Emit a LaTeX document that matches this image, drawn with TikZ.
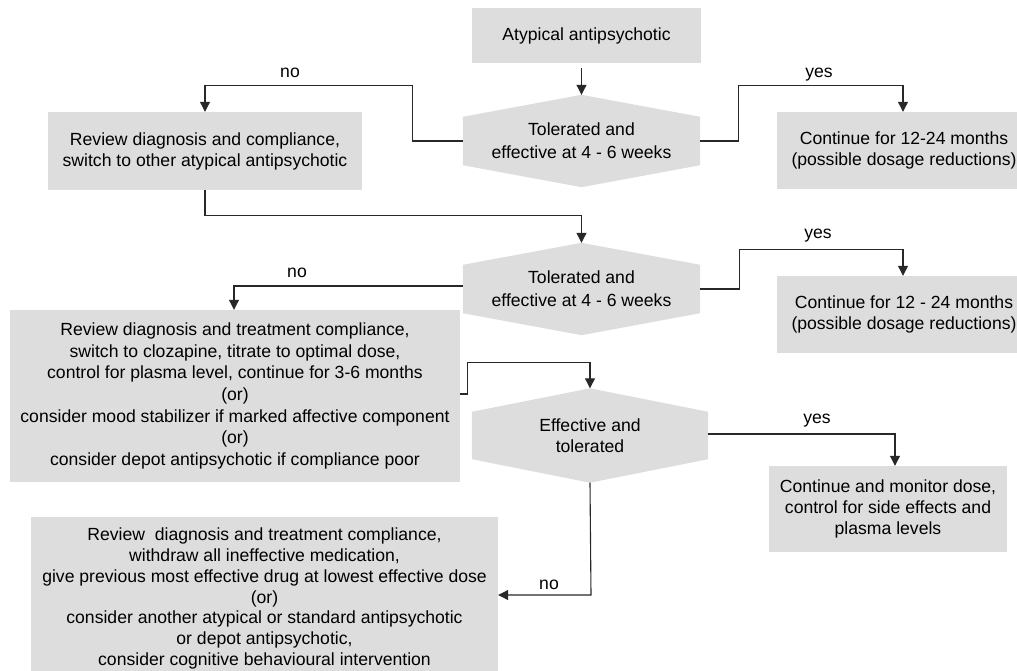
\documentclass[tikz,border=0pt]{standalone}
\usepackage{fontspec}
\setmainfont{Liberation Sans}
\usetikzlibrary{arrows.meta,backgrounds}
\definecolor{boxgray}{RGB}{221,221,221}
\definecolor{linegray}{RGB}{40,40,40}
\begin{document}
\begin{tikzpicture}[x=1pt,y=-1pt,
  every node/.style={font=\fontsize{17.6}{21}\selectfont},
  box/.style={rectangle,fill=boxgray,inner sep=0pt,align=center},
  hexbody/.style={rectangle,inner sep=0pt,align=center},
  conn/.style={draw=linegray,line width=1.1pt},
  arr/.style={conn,-{Triangle[width=10pt,length=10pt]}},
  lbl/.style={inner sep=1pt}
]
\useasboundingbox (0,0) rectangle (1017,671);

% boxes
\node[box,minimum width=229,minimum height=55] (start) at (586.5,35.5) {Atypical antipsychotic};
\node[box,minimum width=314,minimum height=78] (sw) at (205,151)
  {Review diagnosis and compliance,\\switch to other atypical antipsychotic};
\node[box,minimum width=254,minimum height=77] (cont1) at (904,150.5)
  {Continue for 12-24 months\\(possible dosage reductions)};
\node[box,minimum width=254,minimum height=77] (cont2) at (904,314.5)
  {Continue for 12 - 24 months\\(possible dosage reductions)};
\node[box,minimum width=450,minimum height=172,font=\fontsize{17.6}{21.6}\selectfont] (cloz) at (235,396)
  {Review diagnosis and treatment compliance,\\switch to clozapine, titrate to optimal dose,\\control for plasma level, continue for 3-6 months\\(or)\\consider mood stabilizer if marked affective component\\(or)\\consider depot antipsychotic if compliance poor};
\node[box,minimum width=238,minimum height=86] (cont3) at (888,509)
  {Continue and monitor dose,\\control for side effects and\\plasma levels};
\node[box,minimum width=467,minimum height=163,font=\fontsize{17.6}{20.7}\selectfont] (rev) at (264.5,598.5)
  {Review\ \ diagnosis and treatment compliance,\\withdraw all ineffective medication,\\give previous most effective drug at lowest effective dose\\(or)\\consider another atypical or standard antipsychotic\\or depot antipsychotic,\\consider cognitive behavioural intervention};

% decision hexagons: a rectangular body with pointed top and bottom
\node[hexbody,minimum width=237,minimum height=48,font=\fontsize{17.6}{23}\selectfont] (d1) at (581.5,141)
  {Tolerated and\\effective at 4 - 6 weeks};
\node[hexbody,minimum width=237,minimum height=48,font=\fontsize{17.6}{23}\selectfont] (d2) at (581.5,289)
  {Tolerated and\\effective at 4 - 6 weeks};
\node[hexbody,minimum width=236,minimum height=47] (d3) at (590,435.5)
  {Effective and\\tolerated};

\begin{scope}[on background layer]
  \foreach \h/\p in {d1/22,d2/22,d3/23.5}{
    \fill[boxgray] (\h.north west) -- ([yshift=\p pt]\h.north) -- (\h.north east)
      -- (\h.south east) -- ([yshift=-\p pt]\h.south) -- (\h.south west) -- cycle;
  }
\end{scope}

% tips of the pointed decision shapes
\coordinate (d1top) at ([yshift=22pt]d1.north);
\coordinate (d2top) at ([yshift=22pt]d2.north);
\coordinate (d3top) at ([yshift=23.5pt]d3.north);
\coordinate (d3bot) at ([yshift=-23.5pt]d3.south);

% connectors
\draw[arr] ([yshift=-5pt]start.south -| d1top) -- (d1top);

\draw[arr] (d1.west) -- ++(-50,0) |- ([yshift=26pt]sw.north) -- (sw.north);
\node[lbl] (no1) at (290,73) {no};

\draw[arr] (d1.east) -- ++(38,0) |- ([yshift=26pt]cont1.north -| 903,0) -- (cont1.north -| 903,0);
\node[lbl] (yes1) at (819,75) {yes};

\draw[arr] (sw.south) -- ++(0,25) -| (d2top);

\draw[arr] (d2.west) ++(0,-3) -- (234,286) -- (cloz.north -| 234,0);
\node[lbl] (no2) at (297,273) {no};

\draw[arr] (d2.east) -- ++(39,0) |- ([yshift=26pt]cont2.north -| 903,0) -- (cont2.north -| 903,0);
\node[lbl] (yes2) at (818,236) {yes};

\draw[arr] (cloz.east |- 0,394) -- ++(7,0) |- ([yshift=26pt]d3top) -- (d3top);

\draw[arr] (d3.east |- 0,434) -- (895,434) -- (cont3.north -| 895,0);
\node[lbl] (yes3) at (817,421) {yes};

\draw[arr] (d3bot) -- (591,595) -- (rev.east |- 0,595);
\node[lbl] (no3) at (549,585) {no};
\end{tikzpicture}
\end{document}
